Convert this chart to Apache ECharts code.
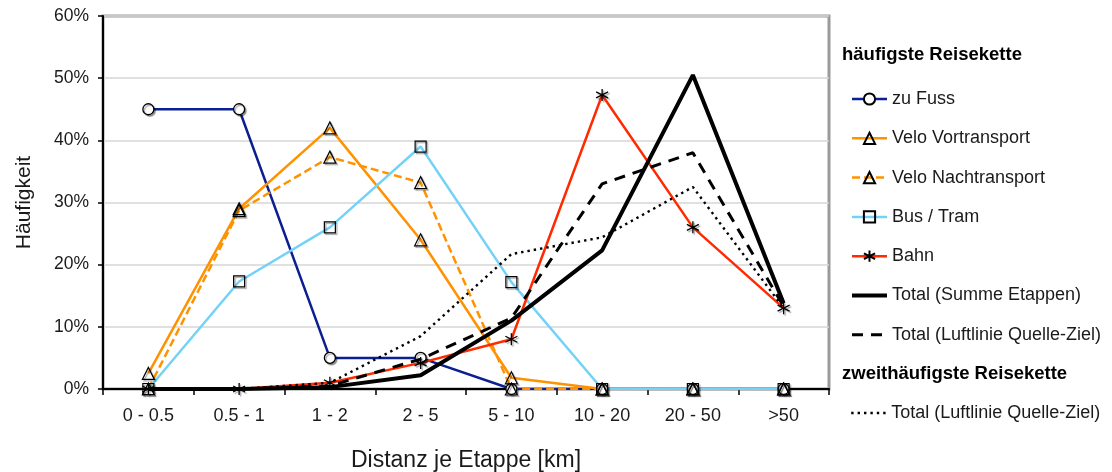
<!DOCTYPE html>
<html><head><meta charset="utf-8">
<script src="https://cdn.jsdelivr.net/npm/echarts@6/dist/echarts.min.js"></script>
<style>html,body{margin:0;padding:0;background:#fff}#c{width:1112px;height:472px}</style>
</head><body><div id="c"></div>
<script>
const categories = ['0 - 0.5', '0.5 - 1', '1 - 2', '2 - 5', '5 - 10', '10 - 20', '20 - 50', '>50'];
const zuFuss = [45, 45, 5, 5, 0, 0, 0, 0];
const veloVor = [2.5, 29, 42, 24, 1.8, 0, 0, 0];
const veloNach = [0, 28.7, 37.3, 33.2, 0, 0, 0, 0];
const busTram = [0, 17.3, 26, 39, 17.2, 0, 0, 0];
const bahn = [0, 0, 1, 4.2, 8, 47.3, 26, 13];
const totalSumme = [0, 0, 0.3, 2.2, 11, 22.3, 50.5, 13.8];
const totalLuft = [0, 0, 0.5, 4.8, 11.4, 33, 38, 13.3];
const zweitLuft = [0, 0, 1, 8.5, 21.7, 24.4, 32.5, 13];
const yMin = 0, yMax = 60, yStep = 10;

const FONT = "'Liberation Sans', Arial, sans-serif";
const ASTERISK = 'path://M0,-10L0,10M-8.66,-5L8.66,5M-8.66,5L8.66,-5';
const shadow = {shadowColor: 'rgba(0,0,0,0.35)', shadowOffsetX: 1.5, shadowOffsetY: 1.5, shadowBlur: 1};
const noMark = {color: 'rgba(0,0,0,0)', borderColor: 'rgba(0,0,0,0)', borderWidth: 0, shadowColor: 'rgba(0,0,0,0)'};

function lineSeries(name, data, color, opts) {
  return Object.assign({
    name: name, type: 'line', data: data, z: 3,
    lineStyle: {color: color, width: 2.5, type: 'solid'},
    symbol: 'none', symbolSize: 10,
    itemStyle: Object.assign({color: 'rgba(255,255,255,0)', borderColor: '#000', borderWidth: 1.2}, shadow),
    emphasis: {disabled: true}, animation: false
  }, opts || {});
}

const series = [
  lineSeries('zu Fuss', zuFuss, '#0b1f91', {symbol: 'circle', symbolSize: 11,
    itemStyle: Object.assign({color: '#fff', borderColor: '#000', borderWidth: 1.3}, shadow)}),
  lineSeries('Velo Vortransport', veloVor, '#ff9200', {symbol: 'triangle', symbolSize: 12}),
  lineSeries('Velo Nachtransport', veloNach, '#ff9200', {symbol: 'triangle', symbolSize: 12,
    lineStyle: {color: '#ff9200', width: 2.5, type: [8, 4]}}),
  lineSeries('Bus / Tram', busTram, '#74d2f7', {symbol: 'rect', symbolSize: 11}),
  lineSeries('Bahn', bahn, '#ff2a00', {symbol: ASTERISK, symbolSize: 12,
    itemStyle: Object.assign({color: 'none', borderColor: '#000', borderWidth: 1.3}, shadow)}),
  lineSeries('Total (Summe Etappen)', totalSumme, '#000', {lineStyle: {color: '#000', width: 4}, z: 5, itemStyle: noMark}),
  lineSeries('Total (Luftlinie Quelle-Ziel)', totalLuft, '#000', {lineStyle: {color: '#000', width: 3, type: [11, 8]}, z: 4, itemStyle: noMark}),
  lineSeries('2: Total (Luftlinie Quelle-Ziel)', zweitLuft, '#000', {lineStyle: {color: '#000', width: 2.4, type: [2.4, 4]}, z: 4, itemStyle: noMark})
];

const legendBase = {
  orient: 'vertical', left: 850, padding: 0, itemWidth: 35, itemHeight: 14, itemGap: 21.3,
  selectedMode: false,
  lineStyle: {width: 'inherit'},
  textStyle: {fontFamily: FONT, fontSize: 18, color: '#1a1a1a', lineHeight: 18},
  formatter: function (n) { return n.replace(/^2: /, ''); }
};

const chart = echarts.init(document.getElementById('c'), null, {renderer: 'canvas'});
chart.setOption({
  backgroundColor: '#fff',
  animation: false,
  textStyle: {fontFamily: FONT},
  grid: {left: 103, right: 283, top: 16, bottom: 83, show: true, borderColor: '#9a9a9a', borderWidth: 3,
         containLabel: false, outerBoundsMode: 'none'},
  xAxis: {
    type: 'category', data: categories, boundaryGap: true,
    axisLine: {lineStyle: {color: '#000', width: 2}},
    axisTick: {show: true, length: 6, lineStyle: {color: '#000', width: 1.5}},
    axisLabel: {fontSize: 18, color: '#1a1a1a', margin: 18, fontFamily: FONT},
    name: 'Distanz je Etappe [km]', nameLocation: 'middle', nameGap: 60,
    nameTextStyle: {fontSize: 23, color: '#1a1a1a', fontFamily: FONT}
  },
  yAxis: {
    type: 'value', min: yMin, max: yMax, interval: yStep,
    axisLine: {show: true, lineStyle: {color: '#000', width: 2}},
    axisTick: {show: true, length: 5, inside: false, lineStyle: {color: '#000', width: 1.5}},
    axisLabel: {formatter: '{value}%', fontSize: 17.5, color: '#1a1a1a', margin: 14, fontFamily: FONT},
    splitLine: {lineStyle: {color: '#d6d6d6', width: 1.5}},
    name: 'Häufigkeit', nameLocation: 'middle', nameGap: 68,
    nameTextStyle: {fontSize: 21, color: '#1a1a1a', fontFamily: FONT}
  },
  legend: [
    Object.assign({}, legendBase, {top: 90, data: series.slice(0, 7).map(s => s.name)}),
    Object.assign({}, legendBase, {top: 404, data: [series[7].name]})
  ],
  graphic: [
    {type: 'text', left: 842, top: 45, z: 11, silent: true,
     style: {text: 'häufigste Reisekette', font: "bold 18.5px 'Liberation Sans', Arial, sans-serif", fill: '#000'}},
    {type: 'text', left: 842, top: 364, z: 11, silent: true,
     style: {text: 'zweithäufigste Reisekette', font: "bold 18.5px 'Liberation Sans', Arial, sans-serif", fill: '#000'}}
  ],
  series: series
});
</script></body></html>
